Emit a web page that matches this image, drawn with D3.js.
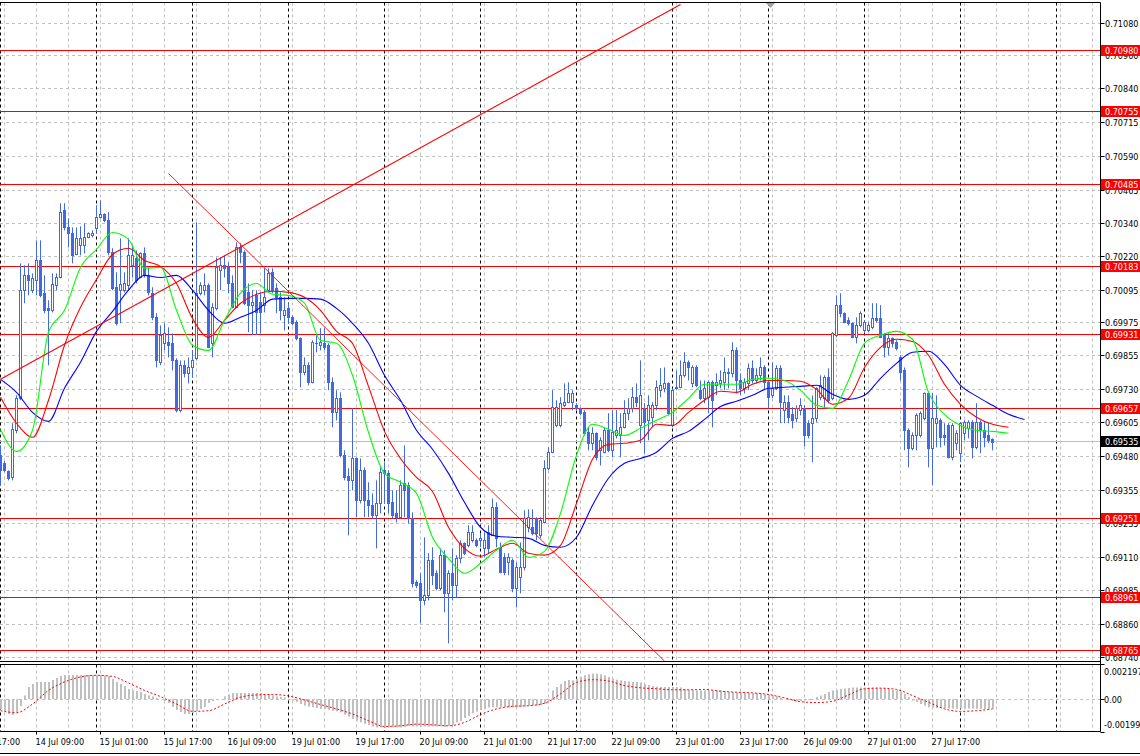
<!DOCTYPE html>
<html><head><meta charset="utf-8">
<script src="https://cdn.jsdelivr.net/npm/d3@7"></script>
<style>html,body{margin:0;padding:0;background:#fff;overflow:hidden}</style>
</head><body>
<svg id="c" width="1140" height="756"></svg>
<script>
// ---------- DATA (H1 bars, index 0 = 14 Jul 00:00) ----------
const open=[0.69486,0.69456,0.69427,0.69404,0.69578,0.69696,0.70095,0.70150,0.70095,0.70132,0.70205,0.70084,0.70028,0.70021,0.70113,0.70142,0.70390,0.70327,0.70305,0.70228,0.70261,0.70261,0.70290,0.70298,0.70324,0.70364,0.70375,0.70353,0.70235,0.70106,0.70095,0.70095,0.70113,0.70187,0.70213,0.70142,0.70231,0.70150,0.70084,0.69995,0.69829,0.69899,0.69903,0.69899,0.69836,0.69652,0.69818,0.69788,0.69810,0.69844,0.70084,0.70095,0.70113,0.69899,0.70028,0.70168,0.70187,0.70179,0.70120,0.70032,0.70253,0.70235,0.70087,0.70040,0.70076,0.70051,0.70040,0.70095,0.70161,0.70102,0.70069,0.70002,0.70028,0.69995,0.69976,0.69917,0.69792,0.69818,0.69755,0.69899,0.69892,0.69899,0.69892,0.69755,0.69644,0.69696,0.69486,0.69411,0.69393,0.69474,0.69320,0.69430,0.69320,0.69301,0.69264,0.69308,0.69430,0.69419,0.69312,0.69271,0.69257,0.69382,0.69375,0.69253,0.69017,0.69013,0.68950,0.68969,0.69098,0.69050,0.68995,0.69117,0.68976,0.69050,0.69006,0.69105,0.69161,0.69153,0.69172,0.69172,0.69172,0.69142,0.69201,0.69190,0.69293,0.69146,0.69109,0.69091,0.69098,0.68995,0.69035,0.69072,0.69220,0.69220,0.69253,0.69190,0.69238,0.69438,0.69497,0.69596,0.69596,0.69670,0.69681,0.69681,0.69670,0.69659,0.69644,0.69570,0.69530,0.69567,0.69504,0.69497,0.69578,0.69504,0.69559,0.69559,0.69589,0.69641,0.69659,0.69700,0.69596,0.69659,0.69615,0.69626,0.69670,0.69726,0.69733,0.69751,0.69596,0.69733,0.69737,0.69781,0.69829,0.69751,0.69810,0.69726,0.69696,0.69700,0.69755,0.69744,0.69751,0.69755,0.69788,0.69788,0.69873,0.69762,0.69733,0.69751,0.69807,0.69762,0.69781,0.69810,0.69755,0.69707,0.69733,0.69807,0.69652,0.69681,0.69637,0.69622,0.69652,0.69659,0.69604,0.69604,0.69622,0.69700,0.69696,0.69773,0.69696,0.69929,0.70040,0.70010,0.69984,0.69973,0.69921,0.69965,0.69947,0.69947,0.69958,0.69991,0.69991,0.69929,0.69884,0.69918,0.69903,0.69847,0.69799,0.69578,0.69511,0.69559,0.69559,0.69622,0.69715,0.69511,0.69604,0.69615,0.69559,0.69596,0.69478,0.69530,0.69493,0.69567,0.69585,0.69607,0.69515,0.69607,0.69578,0.69559,0.69545];
const high=[0.69523,0.69464,0.69430,0.69604,0.69707,0.70194,0.70187,0.70194,0.70157,0.70279,0.70279,0.70150,0.70058,0.70157,0.70157,0.70416,0.70416,0.70360,0.70327,0.70327,0.70331,0.70342,0.70309,0.70316,0.70409,0.70427,0.70379,0.70383,0.70250,0.70161,0.70287,0.70161,0.70287,0.70261,0.70242,0.70235,0.70253,0.70179,0.70106,0.70010,0.69965,0.69973,0.69958,0.69936,0.69844,0.69836,0.69836,0.69847,0.69873,0.70346,0.70124,0.70157,0.70120,0.70047,0.70216,0.70216,0.70224,0.70198,0.70150,0.70272,0.70268,0.70242,0.70120,0.70095,0.70095,0.70087,0.70176,0.70176,0.70176,0.70120,0.70087,0.70069,0.70047,0.70002,0.69984,0.69921,0.69847,0.69829,0.69910,0.69929,0.69955,0.69955,0.69899,0.69773,0.69726,0.69718,0.69504,0.69438,0.69659,0.69478,0.69474,0.69441,0.69386,0.69345,0.69393,0.69441,0.69460,0.69430,0.69356,0.69356,0.69393,0.69522,0.69386,0.69275,0.69024,0.69050,0.69183,0.69124,0.69146,0.69061,0.69142,0.69135,0.69061,0.69142,0.69117,0.69172,0.69164,0.69227,0.69227,0.69179,0.69198,0.69201,0.69227,0.69326,0.69312,0.69164,0.69124,0.69124,0.69105,0.69091,0.69164,0.69283,0.69286,0.69286,0.69257,0.69257,0.69467,0.69515,0.69726,0.69689,0.69700,0.69751,0.69755,0.69726,0.69678,0.69663,0.69652,0.69589,0.69589,0.69570,0.69552,0.69589,0.69641,0.69652,0.69652,0.69641,0.69689,0.69696,0.69737,0.69751,0.69836,0.69678,0.69707,0.69681,0.69762,0.69807,0.69810,0.69755,0.69733,0.69799,0.69836,0.69866,0.69836,0.69818,0.69818,0.69762,0.69762,0.69762,0.69762,0.69788,0.69799,0.69847,0.69807,0.69903,0.69884,0.69788,0.69770,0.69825,0.69836,0.69807,0.69847,0.69818,0.69762,0.69829,0.69818,0.69818,0.69707,0.69707,0.69663,0.69670,0.69696,0.69670,0.69615,0.69707,0.69737,0.69781,0.69781,0.69807,0.69940,0.70076,0.70084,0.70013,0.69995,0.69976,0.69995,0.70017,0.69984,0.69976,0.70047,0.70047,0.70040,0.69936,0.69936,0.69921,0.69910,0.69855,0.69810,0.69585,0.69570,0.69641,0.69648,0.69718,0.69722,0.69715,0.69707,0.69622,0.69604,0.69604,0.69604,0.69578,0.69607,0.69615,0.69615,0.69615,0.69678,0.69615,0.69607,0.69607,0.69548];
const low=[0.69375,0.69423,0.69393,0.69393,0.69567,0.69689,0.70047,0.70076,0.70084,0.70076,0.70069,0.70010,0.69818,0.70013,0.70095,0.70139,0.70316,0.70253,0.70194,0.70224,0.70224,0.70231,0.70287,0.70290,0.70305,0.70360,0.70346,0.70224,0.70095,0.69965,0.69973,0.70087,0.70095,0.70142,0.70120,0.70139,0.70142,0.70076,0.69984,0.69810,0.69818,0.69873,0.69847,0.69799,0.69644,0.69644,0.69773,0.69751,0.69773,0.69836,0.70076,0.70076,0.69881,0.69847,0.70021,0.70095,0.70142,0.70084,0.70028,0.70028,0.70194,0.70040,0.69940,0.69929,0.69929,0.69936,0.70013,0.70087,0.70084,0.70010,0.69984,0.69947,0.69973,0.69965,0.69910,0.69737,0.69781,0.69744,0.69751,0.69866,0.69873,0.69873,0.69726,0.69589,0.69615,0.69478,0.69393,0.69190,0.69356,0.69257,0.69308,0.69257,0.69257,0.69253,0.69142,0.69271,0.69308,0.69271,0.69253,0.69238,0.69253,0.69257,0.69234,0.68998,0.68995,0.68865,0.68932,0.68950,0.69006,0.68987,0.68987,0.68906,0.68791,0.68950,0.68961,0.69087,0.69117,0.69146,0.69164,0.69146,0.69146,0.69109,0.69124,0.69190,0.69146,0.69050,0.69043,0.69043,0.68980,0.68924,0.68976,0.69061,0.69201,0.69190,0.69172,0.69179,0.69234,0.69430,0.69493,0.69589,0.69589,0.69663,0.69678,0.69652,0.69652,0.69633,0.69559,0.69504,0.69504,0.69467,0.69448,0.69493,0.69497,0.69478,0.69548,0.69478,0.69585,0.69615,0.69644,0.69663,0.69530,0.69493,0.69541,0.69589,0.69652,0.69700,0.69718,0.69633,0.69589,0.69726,0.69733,0.69773,0.69762,0.69737,0.69737,0.69689,0.69678,0.69641,0.69589,0.69707,0.69733,0.69726,0.69733,0.69773,0.69714,0.69707,0.69714,0.69726,0.69751,0.69751,0.69762,0.69726,0.69663,0.69696,0.69726,0.69604,0.69604,0.69604,0.69585,0.69607,0.69633,0.69518,0.69548,0.69460,0.69607,0.69689,0.69659,0.69678,0.69689,0.69921,0.69995,0.69973,0.69965,0.69918,0.69899,0.69958,0.69936,0.69940,0.69951,0.69976,0.69918,0.69847,0.69855,0.69884,0.69873,0.69762,0.69504,0.69441,0.69504,0.69504,0.69552,0.69615,0.69441,0.69375,0.69515,0.69515,0.69522,0.69474,0.69467,0.69504,0.69460,0.69541,0.69548,0.69474,0.69508,0.69493,0.69515,0.69530,0.69504];
const close=[0.69430,0.69430,0.69401,0.69582,0.69696,0.70095,0.70150,0.70132,0.70139,0.70205,0.70076,0.70021,0.70021,0.70117,0.70142,0.70383,0.70327,0.70305,0.70224,0.70287,0.70287,0.70290,0.70305,0.70305,0.70364,0.70375,0.70353,0.70235,0.70102,0.69973,0.70117,0.70121,0.70224,0.70224,0.70132,0.70231,0.70150,0.70087,0.69995,0.69836,0.69929,0.69936,0.69892,0.69836,0.69652,0.69818,0.69788,0.69810,0.69836,0.70084,0.70113,0.70113,0.69884,0.70032,0.70179,0.70187,0.70176,0.70120,0.70032,0.70253,0.70235,0.70047,0.70040,0.70051,0.70013,0.70013,0.70069,0.70157,0.70095,0.70069,0.70021,0.70021,0.69995,0.69973,0.69917,0.69792,0.69818,0.69755,0.69903,0.69899,0.69903,0.69884,0.69755,0.69644,0.69696,0.69486,0.69404,0.69393,0.69474,0.69320,0.69430,0.69320,0.69301,0.69264,0.69308,0.69423,0.69419,0.69308,0.69264,0.69257,0.69375,0.69356,0.69253,0.69013,0.69006,0.68950,0.68969,0.69098,0.69043,0.68995,0.69117,0.68976,0.69050,0.69006,0.69105,0.69161,0.69124,0.69201,0.69201,0.69153,0.69179,0.69172,0.69142,0.69293,0.69179,0.69054,0.69054,0.69109,0.68995,0.69072,0.69072,0.69253,0.69257,0.69198,0.69198,0.69246,0.69438,0.69497,0.69663,0.69663,0.69678,0.69681,0.69715,0.69715,0.69659,0.69641,0.69567,0.69530,0.69567,0.69478,0.69541,0.69578,0.69504,0.69570,0.69578,0.69589,0.69641,0.69659,0.69700,0.69681,0.69707,0.69607,0.69670,0.69670,0.69737,0.69744,0.69751,0.69641,0.69726,0.69737,0.69781,0.69829,0.69810,0.69810,0.69744,0.69696,0.69733,0.69755,0.69689,0.69755,0.69762,0.69792,0.69792,0.69873,0.69762,0.69733,0.69755,0.69807,0.69762,0.69781,0.69810,0.69755,0.69700,0.69733,0.69807,0.69681,0.69681,0.69626,0.69615,0.69659,0.69670,0.69559,0.69559,0.69622,0.69733,0.69744,0.69773,0.69689,0.69936,0.70040,0.70010,0.69976,0.69973,0.69921,0.69965,0.70010,0.69976,0.69965,0.69991,0.69984,0.69921,0.69884,0.69918,0.69899,0.69881,0.69792,0.69578,0.69511,0.69559,0.69633,0.69641,0.69715,0.69511,0.69622,0.69622,0.69552,0.69552,0.69478,0.69596,0.69567,0.69604,0.69607,0.69607,0.69515,0.69607,0.69578,0.69552,0.69541,0.69535];

// Alligator lines, one value every 4 bars (already shifted as drawn on the chart)
const maStep=4;
const jaw=[0.69766,0.69718,0.69644,0.69611,0.69733,0.69829,0.69943,0.70017,0.70095,0.70150,0.70142,0.70150,0.70095,0.70021,0.69973,0.69995,0.70021,0.70062,0.70065,0.70065,0.70062,0.70028,0.69973,0.69899,0.69781,0.69689,0.69578,0.69508,0.69419,0.69312,0.69220,0.69187,0.69183,0.69179,0.69153,0.69146,0.69183,0.69301,0.69401,0.69456,0.69474,0.69497,0.69548,0.69574,0.69618,0.69666,0.69685,0.69707,0.69733,0.69737,0.69740,0.69744,0.69711,0.69692,0.69707,0.69770,0.69825,0.69866,0.69870,0.69821,0.69744,0.69704,0.69670,0.69637,0.69618];
const teeth=[0.69700,0.69604,0.69552,0.69689,0.69892,0.70032,0.70135,0.70227,0.70250,0.70205,0.70183,0.70120,0.69991,0.69921,0.69984,0.70047,0.70080,0.70091,0.70087,0.70069,0.70021,0.69943,0.69899,0.69740,0.69574,0.69474,0.69404,0.69352,0.69220,0.69142,0.69113,0.69139,0.69161,0.69124,0.69117,0.69153,0.69308,0.69471,0.69526,0.69530,0.69541,0.69600,0.69596,0.69644,0.69689,0.69722,0.69718,0.69748,0.69762,0.69762,0.69759,0.69729,0.69674,0.69696,0.69810,0.69884,0.69914,0.69906,0.69855,0.69748,0.69674,0.69626,0.69600,0.69589];
const lips=[0.69581,0.69500,0.69578,0.69940,0.70021,0.70179,0.70246,0.70308,0.70283,0.70176,0.70179,0.70021,0.69892,0.69873,0.69984,0.70084,0.70120,0.70080,0.70076,0.70047,0.69910,0.69899,0.69781,0.69570,0.69419,0.69386,0.69345,0.69183,0.69105,0.69050,0.69087,0.69135,0.69172,0.69109,0.69131,0.69271,0.69486,0.69600,0.69582,0.69559,0.69585,0.69615,0.69644,0.69696,0.69748,0.69748,0.69748,0.69766,0.69770,0.69762,0.69726,0.69670,0.69659,0.69762,0.69899,0.69929,0.69943,0.69914,0.69718,0.69637,0.69596,0.69578,0.69574,0.69567];

// MACD main (histogram, every bar) and signal (every 4 bars)
const macdMain=[-0.00060,-0.00073,-0.00091,-0.00097,-0.00079,-0.00042,0.00023,0.00075,0.00094,0.00106,
0.00106,0.00106,0.00106,0.00118,0.00131,0.00143,0.00149,0.00149,0.00149,0.00149,
0.00149,0.00149,0.00149,0.00149,0.00149,0.00149,0.00146,0.00143,0.00124,0.00106,
0.00094,0.00081,0.00063,0.00054,0.00050,0.00044,0.00032,0.00023,0.00017,0.00007,
0.00001,-0.00011,-0.00023,-0.00048,-0.00066,-0.00079,-0.00091,-0.00091,-0.00085,-0.00073,
-0.00060,-0.00048,-0.00023,-0.00011,-0.00005,0.00001,0.00017,0.00029,0.00038,0.00038,
0.00038,0.00038,0.00038,0.00038,0.00038,0.00038,0.00032,0.00029,0.00023,0.00017,
0.00014,0.00010,0.00001,-0.00009,-0.00017,-0.00030,-0.00040,-0.00046,-0.00050,-0.00054,
-0.00060,-0.00060,-0.00065,-0.00071,-0.00075,-0.00081,-0.00095,-0.00108,-0.00122,-0.00133,
-0.00143,-0.00153,-0.00159,-0.00168,-0.00174,-0.00174,-0.00174,-0.00174,-0.00174,-0.00174,
-0.00174,-0.00171,-0.00165,-0.00168,-0.00168,-0.00168,-0.00168,-0.00168,-0.00168,-0.00168,
-0.00168,-0.00171,-0.00165,-0.00159,-0.00143,-0.00134,-0.00116,-0.00103,-0.00087,-0.00077,
-0.00066,-0.00060,-0.00050,-0.00050,-0.00050,-0.00050,-0.00050,-0.00050,-0.00050,-0.00050,
-0.00050,-0.00046,-0.00043,-0.00040,-0.00040,-0.00036,-0.00030,-0.00009,0.00054,0.00075,
0.00094,0.00112,0.00118,0.00116,0.00126,0.00137,0.00147,0.00153,0.00157,0.00157,
0.00153,0.00147,0.00137,0.00126,0.00120,0.00116,0.00112,0.00109,0.00106,0.00106,
0.00103,0.00094,0.00087,0.00081,0.00078,0.00075,0.00075,0.00075,0.00075,0.00075,
0.00072,0.00063,0.00060,0.00057,0.00054,0.00054,0.00054,0.00054,0.00054,0.00054,
0.00054,0.00050,0.00047,0.00044,0.00044,0.00041,0.00041,0.00038,0.00038,0.00038,
0.00038,0.00032,0.00029,0.00023,0.00017,0.00007,0.00001,-0.00005,-0.00011,-0.00014,
-0.00011,-0.00008,-0.00005,0.00001,0.00014,0.00023,0.00032,0.00044,0.00054,0.00057,
0.00063,0.00066,0.00069,0.00072,0.00072,0.00072,0.00072,0.00072,0.00072,0.00072,
0.00069,0.00069,0.00063,0.00057,0.00054,0.00044,0.00032,0.00014,-0.00009,-0.00017,
-0.00030,-0.00040,-0.00050,-0.00052,-0.00054,-0.00055,-0.00056,-0.00057,-0.00058,-0.00058,
-0.00058,-0.00058,-0.00058,-0.00058,-0.00059,-0.00059,-0.00060,-0.00060,-0.00060];
const signalStep=4;
const macdSignal=[-0.00071,-0.00083,-0.00030,0.00054,0.00106,0.00137,0.00147,0.00140,0.00100,0.00054,0.00016,-0.00030,-0.00075,-0.00071,-0.00030,0.00012,0.00026,0.00029,0.00020,-0.00005,-0.00033,-0.00060,-0.00091,-0.00133,-0.00168,-0.00164,-0.00154,-0.00158,-0.00164,-0.00143,-0.00095,-0.00060,-0.00044,-0.00040,-0.00025,0.00033,0.00103,0.00120,0.00112,0.00084,0.00070,0.00064,0.00058,0.00058,0.00060,0.00049,0.00043,0.00039,0.00029,0.00008,-0.00015,-0.00021,-0.00013,0.00026,0.00064,0.00068,0.00060,0.00022,-0.00019,-0.00060,-0.00075,-0.00071,-0.00060];

// Axis labels
const priceTicks=[0.71080,0.70960,0.70840,0.70715,0.70590,0.70465,0.70340,0.70220,0.70095,0.69975,0.69855,0.69730,0.69605,0.69480,0.69355,0.69235,0.69110,0.68985,0.68860,0.68740];
const levels=[0.70980,0.70755,0.70485,0.70183,0.69931,0.69657,0.69251,0.68961,0.68765];
const bidPrice=0.69535;
const timeLabels=["13 Jul 17:00","14 Jul 09:00","15 Jul 01:00","15 Jul 17:00","16 Jul 09:00","19 Jul 01:00","19 Jul 17:00","20 Jul 09:00","21 Jul 01:00","21 Jul 17:00","22 Jul 09:00","23 Jul 01:00","23 Jul 17:00","26 Jul 09:00","27 Jul 01:00","27 Jul 17:00"];
const timeLabelBars=[-7,9,25,41,57,73,89,105,121,137,153,169,185,201,217,233];
const daySeparatorBars=[0,24,48,72,96,120,144,168,192,216,240,264];
const gridBars=[1,9,17,25,33,41,49,57,65,73,81,89,97,105,113,121,129,137,145,153,161,169,177,185,193,201,209,217,225,233,241,249,257,265,273];
const macdTicks=[0.002197,0,-0.00199];
const macdTickText=["0.002197","0.00","-0.00199"];
const trendUp=[{bar:0,price:0.69766},{bar:170,price:0.71150}];
const trendDown=[{bar:42,price:0.70526},{bar:166,price:0.68726}];

// ---------- DRAW ----------
const BLUE="#4169e1", GRID="#c0c0c0", FONT="'DejaVu Sans Condensed','DejaVu Sans',sans-serif";
const AX=1100.5, MT=2.5, MB=661.5, ST=664.5, SB=731.5;
const svg=d3.select("#c");
const x=d3.scaleLinear().domain([0,1]).range([0.5,4.5]);
const y=d3.scaleLinear().domain([0.68765,0.70980]).range([650.5,50.5]);
const ym=d3.scaleLinear().domain([-0.00199,0.002197]).range([SB,663.5]);
const py=v=>Math.round(y(v)-0.5)+0.5;

const defs=svg.append("defs");
defs.append("clipPath").attr("id","cm").append("rect").attr("x",0).attr("y",MT).attr("width",AX).attr("height",MB-MT);
defs.append("clipPath").attr("id","cs").append("rect").attr("x",0).attr("y",ST).attr("width",AX).attr("height",SB-ST);

svg.append("rect").attr("width",1140).attr("height",756).attr("fill","#fff");

const gm=svg.append("g").attr("clip-path","url(#cm)");
const gs=svg.append("g").attr("clip-path","url(#cs)");

// grids
gm.selectAll(".hg").data(priceTicks).join("line").attr("x1",0).attr("x2",AX)
  .attr("y1",py).attr("y2",py).attr("stroke",GRID).attr("stroke-dasharray","3,3");
[gm,gs].forEach((g,j)=>{
  const t=j?ST:MT,b=j?SB:MB;
  g.selectAll(".vg").data(gridBars).join("line").attr("x1",d=>x(d)).attr("x2",d=>x(d))
    .attr("y1",t).attr("y2",b).attr("stroke",GRID).attr("stroke-dasharray","3,3");
  g.selectAll(".ds").data(daySeparatorBars).join("line").attr("x1",d=>x(d)).attr("x2",d=>x(d))
    .attr("y1",t).attr("y2",b).attr("stroke","#000").attr("stroke-dasharray","3,3");
});
gs.append("line").attr("x1",0).attr("x2",AX).attr("y1",Math.round(ym(0))+0.5).attr("y2",Math.round(ym(0))+0.5)
  .attr("stroke",GRID).attr("stroke-dasharray","3,3");

// bid line
gm.append("line").attr("x1",0).attr("x2",AX).attr("y1",py(bidPrice)).attr("y2",py(bidPrice)).attr("stroke","#c0c0c0");

// horizontal levels
gm.selectAll(".lv").data(levels).join("line").attr("x1",0).attr("x2",AX)
  .attr("y1",py).attr("y2",py).attr("stroke","#ff0000").attr("stroke-width",1.2);

// candles
const bars=d3.range(open.length).map(i=>({i,o:open[i],h:high[i],l:low[i],c:close[i]}));
gm.selectAll(".wk").data(bars).join("line").attr("x1",d=>x(d.i)).attr("x2",d=>x(d.i))
  .attr("y1",d=>y(d.h)).attr("y2",d=>y(d.l)).attr("stroke",BLUE);
gm.selectAll(".bd").data(bars).join("rect").each(function(d){
  const r=d3.select(this);
  const t=Math.round(y(Math.max(d.o,d.c))), b=Math.round(y(Math.min(d.o,d.c)));
  if(d.c>=d.o){
    r.attr("x",x(d.i)-1).attr("width",2).attr("y",t+0.5).attr("height",Math.max(0.01,b-t))
     .attr("fill","#fff").attr("stroke",BLUE);
  } else {
    r.attr("x",x(d.i)-1.5).attr("width",3).attr("y",t).attr("height",Math.max(1,b-t+1)).attr("fill",BLUE);
  }
});

// alligator
const maLine=d3.line().x((d,i)=>x(i*maStep)).y(d=>y(d)).curve(d3.curveMonotoneX);
[[jaw,"#0000ff"],[teeth,"#ff0000"],[lips,"#00ff00"]].forEach(([arr,col])=>{
  gm.append("path").datum(arr).attr("d",maLine).attr("fill","none").attr("stroke",col).attr("stroke-width",1.1);
});

// trend lines
const tl=d3.line().x(d=>x(d.bar)).y(d=>y(d.price));
gm.append("path").datum(trendUp).attr("d",tl).attr("stroke","#ff0000").attr("stroke-width",1.1).attr("fill","none");
gm.append("path").datum(trendDown).attr("d",tl).attr("stroke","#ff0000").attr("stroke-width",0.9).attr("fill","none");

// MACD
gs.selectAll(".hb").data(macdMain).join("rect")
  .attr("x",(d,i)=>x(i)-0.5).attr("width",2)
  .attr("y",d=>Math.min(ym(d),ym(0))).attr("height",d=>Math.abs(ym(d)-ym(0)))
  .attr("fill","#c0c0c0");
const sl=d3.line().x((d,i)=>x(i*signalStep)).y(d=>ym(d)).curve(d3.curveMonotoneX);
gs.append("path").datum(macdSignal).attr("d",sl).attr("fill","none").attr("stroke","#ff0000")
  .attr("stroke-width",1).attr("stroke-dasharray","2,2");

// frames
const fr=svg.append("g").attr("stroke","#000").attr("fill","none");
fr.append("line").attr("x1",0).attr("x2",AX).attr("y1",MT).attr("y2",MT);
fr.append("line").attr("x1",0).attr("x2",AX).attr("y1",MB).attr("y2",MB);
fr.append("line").attr("x1",0).attr("x2",AX).attr("y1",ST).attr("y2",ST);
fr.append("line").attr("x1",0).attr("x2",AX).attr("y1",SB).attr("y2",SB);
fr.append("line").attr("x1",AX).attr("x2",AX).attr("y1",MT).attr("y2",SB);
fr.append("line").attr("x1",0).attr("x2",1140).attr("y1",753.5).attr("y2",753.5);

// shift marker
svg.append("path").attr("d","M766,3 L775,3 L770.5,8 Z").attr("fill","#a0a0a0");

// price axis
const pa=svg.append("g").style("font-family",FONT).style("font-size","9px");
pa.selectAll(".pt").data(priceTicks).join("line").attr("x1",AX).attr("x2",AX+4)
  .attr("y1",py).attr("y2",py).attr("stroke","#000");
pa.selectAll(".pl").data(priceTicks).join("text").attr("x",1105).attr("y",d=>py(d)+3.5)
  .attr("fill","#000").text(d=>d.toFixed(5));
levels.forEach(v=>{
  pa.append("rect").attr("x",1101).attr("y",py(v)-5.5).attr("width",39).attr("height",11).attr("fill","#ff0000");
  pa.append("text").attr("x",1105).attr("y",py(v)+3.5).attr("fill","#fff").text(v.toFixed(5));
});
pa.append("rect").attr("x",1101).attr("y",py(bidPrice)-5.5).attr("width",39).attr("height",11).attr("fill","#000");
pa.append("text").attr("x",1105).attr("y",py(bidPrice)+3.5).attr("fill","#fff").text(bidPrice.toFixed(5));

// MACD axis
macdTicks.forEach((v,i)=>{
  const yy=Math.round(ym(v))+0.5;
  pa.append("line").attr("x1",AX).attr("x2",AX+4).attr("y1",yy).attr("y2",yy).attr("stroke","#000");
  const ty=i===0?yy+10:(i===2?yy-5:yy+3.5);
  pa.append("text").attr("x",1104).attr("y",ty).attr("fill","#000").text(macdTickText[i]);
});

// time axis
const ta=svg.append("g").style("font-family",FONT).style("font-size","9px");
ta.selectAll(".tt").data(timeLabelBars).join("line").attr("x1",d=>x(d)).attr("x2",d=>x(d))
  .attr("y1",SB).attr("y2",SB+3).attr("stroke","#000");
ta.selectAll(".tl").data(timeLabelBars).join("text").attr("x",d=>x(d)-1).attr("y",744.5)
  .attr("fill","#000").text((d,i)=>timeLabels[i]);
</script>
</body></html>
